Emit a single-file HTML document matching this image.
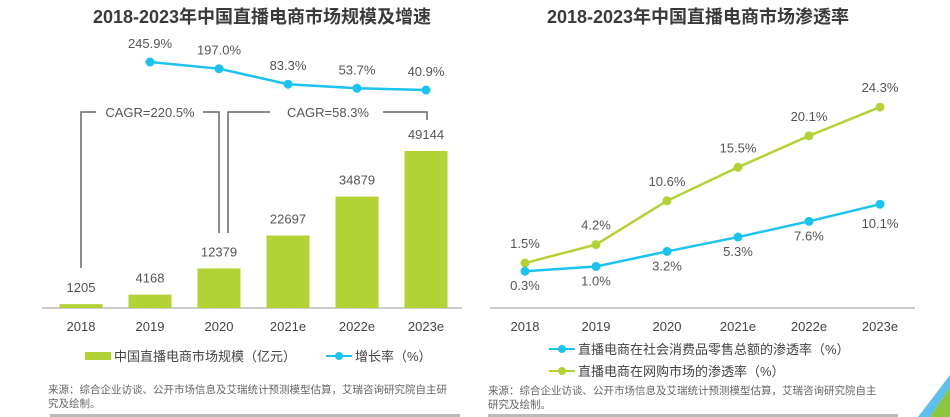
<!DOCTYPE html>
<html><head><meta charset="utf-8">
<style>
html,body{margin:0;padding:0;background:#fff;}
svg{display:block;font-family:"Liberation Sans","Noto Sans CJK SC",sans-serif;}
</style></head>
<body>
<svg width="950" height="417" viewBox="0 0 950 417" xmlns="http://www.w3.org/2000/svg">
<text x="262" y="23" text-anchor="middle" font-size="18" font-weight="bold" fill="#3a3a3a">2018-2023年中国直播电商市场规模及增速</text>
<text x="698" y="23" text-anchor="middle" font-size="18" font-weight="bold" fill="#3a3a3a">2018-2023年中国直播电商市场渗透率</text>

<g id="left"></g>
<g id="right"></g>

<g stroke="#666" stroke-width="1.5" fill="none">
<polyline points="81,268 81,112 96,112"/>
<polyline points="203,112 219,112 219,233"/>
<polyline points="228,233 228,112 270,112"/>
<polyline points="383,112 427,112 427,120"/>
</g>
<text x="150" y="117" text-anchor="middle" font-size="13" fill="#555">CAGR=220.5%</text>
<text x="328" y="117" text-anchor="middle" font-size="13" fill="#555">CAGR=58.3%</text>

<g>
<rect x="85" y="352" width="26" height="8" fill="#b2d235"/>
<text x="114" y="361" font-size="13" fill="#444">中国直播电商市场规模（亿元）</text>
<line x1="326" y1="356" x2="352" y2="356" stroke="#1cc3ee" stroke-width="2"/>
<circle cx="339" cy="356" r="4" fill="#1cc3ee"/>
<text x="355" y="361" font-size="13" fill="#444">增长率（%）</text>
</g>
<g>
<line x1="549" y1="349" x2="575" y2="349" stroke="#1cc3ee" stroke-width="2"/>
<circle cx="562" cy="349" r="4" fill="#1cc3ee"/>
<text x="578" y="354" font-size="13" fill="#444">直播电商在社会消费品零售总额的渗透率（%）</text>
<line x1="549" y1="371" x2="575" y2="371" stroke="#b2d235" stroke-width="2"/>
<circle cx="562" cy="371" r="4" fill="#b2d235"/>
<text x="578" y="376" font-size="13" fill="#444">直播电商在网购市场的渗透率（%）</text>
</g>

<text font-size="10.5" fill="#666"><tspan x="48" y="393">来源：综合企业访谈、公开市场信息及艾瑞统计预测模型估算，艾瑞咨询研究院自主研</tspan><tspan x="48" y="407">究及绘制。</tspan></text>
<text font-size="10.5" fill="#666"><tspan x="488" y="394">来源：综合企业访谈、公开市场信息及艾瑞统计预测模型估算，艾瑞咨询研究院自主</tspan><tspan x="488" y="408">研究及绘制。</tspan></text>
<rect x="50" y="414" width="410" height="3" fill="#bbb"/>
<rect x="488" y="414" width="410" height="3" fill="#bbb"/>
<polygon points="918,417 950,375 950,387 930,417" fill="#5bc0eb"/>
<polygon points="930,417 950,387 950,417" fill="#8cc63f"/>
</svg>
<script>
const categoriesL = ["2018","2019","2020","2021e","2022e","2023e"];
const marketSize = [1205,4168,12379,22697,34879,49144];
const growthRate = [null,245.9,197.0,83.3,53.7,40.9];
const growthLabels = ["","245.9%","197.0%","83.3%","53.7%","40.9%"];
const categoriesR = ["2018","2019","2020","2021e","2022e","2023e"];
const retailPen = [0.3,1.0,3.2,5.3,7.6,10.1];
const onlinePen = [1.5,4.2,10.6,15.5,20.1,24.3];

const NS="http://www.w3.org/2000/svg";
function mk(parent,tag,attrs,text){const e=document.createElementNS(NS,tag);for(const k in attrs)e.setAttribute(k,attrs[k]);if(text!==undefined)e.textContent=text;parent.appendChild(e);return e;}

// left chart
const L=document.getElementById('left');
const xL=i=>81+i*69;
const yBar=v=>308-v*0.003195;
const yG=v=>95.6-v*0.1366;
mk(L,'line',{x1:42,y1:308,x2:462,y2:308,stroke:'#999','stroke-width':1});
categoriesL.forEach((c,i)=>{
  const t=mk(L,'text',{x:xL(i),y:331,'text-anchor':'middle','font-size':13,fill:'#444'},c);
  
  
  const v=marketSize[i];
  const r=mk(L,'rect',{x:xL(i)-21.5,y:yBar(v),width:43,height:308-yBar(v),fill:'#b2d235'});
  
  
  const l=mk(L,'text',{x:xL(i),y:yBar(v)-12,'text-anchor':'middle','font-size':13,fill:'#555'},String(v));
  
  
});
let pts=[];
growthRate.forEach((v,i)=>{if(v!==null)pts.push(xL(i)+','+yG(v));});
const gl=mk(L,'polyline',{points:pts.join(' '),fill:'none',stroke:'#1cc3ee','stroke-width':2.5});


growthRate.forEach((v,i)=>{
  if(v===null)return;
  const p=mk(L,'circle',{cx:xL(i),cy:yG(v),r:4.5,fill:'#1cc3ee'});
  
  
  const t=mk(L,'text',{x:xL(i),y:yG(v)-14,'text-anchor':'middle','font-size':13,fill:'#555'},growthLabels[i]);
  
  
});

// right chart
const R=document.getElementById('right');
const xR=i=>525+i*71;
const yP=v=>273.3-v*6.84;
mk(R,'line',{x1:490,y1:308,x2:915,y2:308,stroke:'#999','stroke-width':1});
categoriesR.forEach((c,i)=>{
  const t=mk(R,'text',{x:xR(i),y:331,'text-anchor':'middle','font-size':13,fill:'#444'},c);
  
  
});
function series(vals,color,name,above){
  const ln=mk(R,'polyline',{points:vals.map((v,i)=>xR(i)+','+yP(v)).join(' '),fill:'none',stroke:color,'stroke-width':2.5});
  
  
  vals.forEach((v,i)=>{
    const p=mk(R,'circle',{cx:xR(i),cy:yP(v),r:4.5,fill:color});
    
    
    let tx=xR(i),ty=above?yP(v)-15:yP(v)+19;
    if(!above&&i===vals.length-1){ty=yP(v)+24;}
    const t=mk(R,'text',{x:tx,y:ty,'text-anchor':'middle','font-size':13,fill:'#555'},v.toFixed(1)+'%');
    
    
  });
}
series(onlinePen,'#b2d235','online-penetration',true);
series(retailPen,'#1cc3ee','retail-penetration',false);
</script>
</body></html>
